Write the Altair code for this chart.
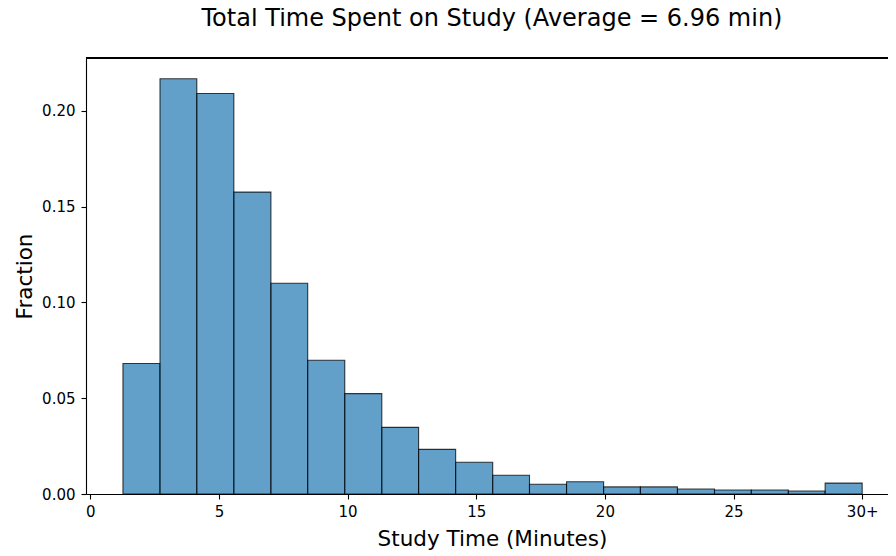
import altair as alt
import pandas as pd

# Histogram bin edges (minutes) and fraction of sessions per bin
bin_edges = [1.27, 2.71, 4.14, 5.58, 7.02, 8.45, 9.89, 11.33, 12.76, 14.20, 15.64,
             17.07, 18.51, 19.95, 21.38, 22.82, 24.26, 25.69, 27.13, 28.56, 30.00]
fractions = [0.0681, 0.2168, 0.2091, 0.1576, 0.1100, 0.0698, 0.0524, 0.0348, 0.0233, 0.0166,
             0.0098, 0.0051, 0.0064, 0.0037, 0.0037, 0.0026, 0.0021, 0.0021, 0.0016, 0.0057]
x_tick_values = [0, 5, 10, 15, 20, 25, 30]
x_tick_labels = ["0", "5", "10", "15", "20", "25", "30+"]
y_tick_values = [0.0, 0.05, 0.10, 0.15, 0.20]
title_text = "Total Time Spent on Study (Average = 6.96 min)"

df = pd.DataFrame({
    "start": bin_edges[:-1],
    "end": bin_edges[1:],
    "fraction": fractions,
})

W, H = 802, 436
label_map = "{" + ", ".join(f"'{v}': '{l}'" for v, l in zip(x_tick_values, x_tick_labels)) + "}"

x_scale = alt.Scale(domain=[-0.166, 31.003], nice=False, zero=False)
y_scale = alt.Scale(domain=[0, 0.2276], nice=False)

bars = alt.Chart(df).mark_bar(
    fill="#1f77b4", fillOpacity=0.7, stroke="black", strokeOpacity=0.75, strokeWidth=1.1
).encode(
    x=alt.X("start:Q", scale=x_scale, axis=alt.Axis(
        values=x_tick_values,
        labelExpr=f"{label_map}[datum.value] || datum.label",
        title="Study Time (Minutes)",
        grid=False, domainColor="black", domainWidth=1.1,
        tickColor="black", tickSize=5, tickWidth=1.1,
        labelFont="DejaVu Sans", labelFontSize=15, labelColor="#000000",
        labelBaseline="alphabetic", labelPadding=17, labelFlush=False,
        titleFont="DejaVu Sans", titleFontSize=21.5, titleFontWeight="normal",
        titleColor="#000000", titleBaseline="alphabetic", titleY=51, titleX=406,
    )),
    x2="end:Q",
    y=alt.Y("fraction:Q", scale=y_scale, axis=alt.Axis(
        values=y_tick_values, format=".2f",
        title="Fraction",
        grid=False, domainColor="black", domainWidth=1.1,
        tickColor="black", tickSize=5, tickWidth=1.1,
        labelFont="DejaVu Sans", labelFontSize=15, labelColor="#000000",
        labelPadding=6, labelFlush=False,
        titleFont="DejaVu Sans", titleFontSize=21.5, titleFontWeight="normal",
        titleColor="#000000", titleBaseline="alphabetic", titleX=-55,
    )),
    y2=alt.datum(0),
)

top_frame = alt.Chart(df).mark_rule(color="black", strokeWidth=1.1).encode(
    x=alt.value(0), x2=alt.value(W), y=alt.value(0)
)

chart = alt.layer(bars, top_frame).properties(
    width=W, height=H,
    title=alt.TitleParams(
        text=title_text, font="DejaVu Sans", fontSize=24, fontWeight="normal",
        color="#000000", anchor="middle", baseline="alphabetic", offset=7, dx=5,
    ),
    autosize=alt.AutoSizeParams(type="none"),
    padding={"left": 78, "top": 50, "right": 0, "bottom": 62},
).configure_view(stroke=None).configure(background="white")

chart.save("out.html", embed_options={"renderer": "svg", "actions": False})
